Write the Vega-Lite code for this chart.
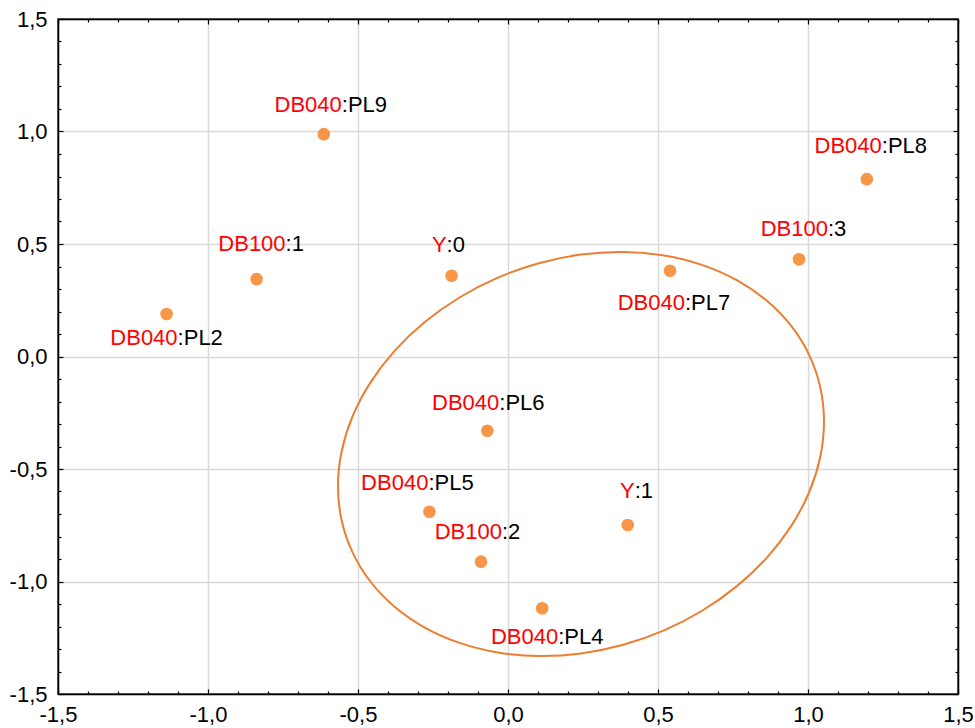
{
  "$schema": "https://vega.github.io/schema/vega-lite/v6.json",
  "width": 900,
  "height": 675,
  "autosize": {"type": "none"},
  "padding": {"left": 58, "top": 19, "right": 17, "bottom": 34},
  "background": "white",
  "config": {
    "view": {"stroke": "black", "strokeWidth": 1.5},
    "font": "Liberation Sans",
    "text": {"font": "Liberation Sans"}
  },
  "datasets": {
    "pts": [
      {"name": "DB040:PL9", "pre": "DB040", "suf": ":PL9", "x": -0.614, "y": 0.988},
      {"name": "DB040:PL8", "pre": "DB040", "suf": ":PL8", "x": 1.196, "y": 0.788},
      {"name": "DB100:1", "pre": "DB100", "suf": ":1", "x": -0.838, "y": 0.344},
      {"name": "DB040:PL2", "pre": "DB040", "suf": ":PL2", "x": -1.138, "y": 0.189},
      {"name": "Y:0", "pre": "Y", "suf": ":0", "x": -0.188, "y": 0.359},
      {"name": "DB100:3", "pre": "DB100", "suf": ":3", "x": 0.97, "y": 0.432},
      {"name": "DB040:PL7", "pre": "DB040", "suf": ":PL7", "x": 0.54, "y": 0.381},
      {"name": "DB040:PL4", "pre": "DB040", "suf": ":PL4", "x": 0.114, "y": -1.119},
      {"name": "DB040:PL6", "pre": "DB040", "suf": ":PL6", "x": -0.069, "y": -0.33},
      {"name": "DB040:PL5", "pre": "DB040", "suf": ":PL5", "x": -0.262, "y": -0.69},
      {"name": "Y:1", "pre": "Y", "suf": ":1", "x": 0.399, "y": -0.749},
      {"name": "DB100:2", "pre": "DB100", "suf": ":2", "x": -0.09, "y": -0.912}
    ],
    "ell": [
      {"o": 0, "x": 1.0533, "y": -0.2893},
      {"o": 1, "x": 1.041, "y": -0.4454},
      {"o": 2, "x": 1.0045, "y": -0.6011},
      {"o": 3, "x": 0.9448, "y": -0.7517},
      {"o": 4, "x": 0.8638, "y": -0.8926},
      {"o": 5, "x": 0.764, "y": -1.0195},
      {"o": 6, "x": 0.6483, "y": -1.1288},
      {"o": 7, "x": 0.5203, "y": -1.2169},
      {"o": 8, "x": 0.3839, "y": -1.281},
      {"o": 9, "x": 0.2433, "y": -1.3195},
      {"o": 10, "x": 0.1027, "y": -1.331},
      {"o": 11, "x": -0.0337, "y": -1.3153},
      {"o": 12, "x": -0.1617, "y": -1.2728},
      {"o": 13, "x": -0.2774, "y": -1.2047},
      {"o": 14, "x": -0.3772, "y": -1.1132},
      {"o": 15, "x": -0.4582, "y": -1.0011},
      {"o": 16, "x": -0.5179, "y": -0.8717},
      {"o": 17, "x": -0.5544, "y": -0.729},
      {"o": 18, "x": -0.5667, "y": -0.5773},
      {"o": 19, "x": -0.5544, "y": -0.4212},
      {"o": 20, "x": -0.5179, "y": -0.2655},
      {"o": 21, "x": -0.4582, "y": -0.1149},
      {"o": 22, "x": -0.3772, "y": 0.026},
      {"o": 23, "x": -0.2774, "y": 0.1529},
      {"o": 24, "x": -0.1617, "y": 0.2622},
      {"o": 25, "x": -0.0337, "y": 0.3503},
      {"o": 26, "x": 0.1027, "y": 0.4144},
      {"o": 27, "x": 0.2433, "y": 0.4529},
      {"o": 28, "x": 0.3839, "y": 0.4644},
      {"o": 29, "x": 0.5203, "y": 0.4487},
      {"o": 30, "x": 0.6483, "y": 0.4062},
      {"o": 31, "x": 0.764, "y": 0.3381},
      {"o": 32, "x": 0.8638, "y": 0.2466},
      {"o": 33, "x": 0.9448, "y": 0.1345},
      {"o": 34, "x": 1.0045, "y": 0.0051},
      {"o": 35, "x": 1.041, "y": -0.1376}
    ]
  },
  "data": {"name": "pts"},
  "encoding": {
    "x": {"field": "x", "type": "quantitative", "scale": {"domain": [-1.5, 1.5], "nice": false, "zero": false}, "axis": null},
    "y": {"field": "y", "type": "quantitative", "scale": {"domain": [-1.5, 1.5], "nice": false, "zero": false}, "axis": null}
  },
  "layer": [
    {
      "data": {"name": "ell"},
      "mark": {"type": "line", "interpolate": "cardinal-closed", "color": "#ed7d31", "strokeWidth": 2},
      "encoding": {
        "x": {"field": "x", "type": "quantitative", "scale": {"domain": [-1.5, 1.5], "nice": false, "zero": false},
          "axis": {
            "orient": "bottom", "title": null, "ticks": false, "domain": false,
            "values": [-1.5, -1.0, -0.5, 0, 0.5, 1.0, 1.5],
            "labelExpr": "(datum.value < -0.001 ? '-' : '') + replace(format(abs(datum.value), '.1f'), '.', ',')",
            "labelFont": "Liberation Sans", "labelFontSize": 22, "labelColor": "black",
            "labelFlush": false, "labelOverlap": false, "labelPadding": 10, "labelBaseline": "top",
            "grid": true, "gridColor": "#d9d9d9", "gridWidth": 1.5
          }},
        "y": {"field": "y", "type": "quantitative", "scale": {"domain": [-1.5, 1.5], "nice": false, "zero": false},
          "axis": {
            "orient": "left", "title": null, "ticks": false, "domain": false,
            "values": [-1.5, -1.0, -0.5, 0, 0.5, 1.0, 1.5],
            "labelExpr": "(datum.value < -0.001 ? '-' : '') + replace(format(abs(datum.value), '.1f'), '.', ',')",
            "labelFont": "Liberation Sans", "labelFontSize": 22, "labelColor": "black",
            "labelFlush": false, "labelOverlap": false, "labelPadding": 11,
            "grid": true, "gridColor": "#d9d9d9", "gridWidth": 1.5
          }},
        "order": {"field": "o", "type": "quantitative"}
      }
    },
    {
      "mark": {"type": "circle", "size": 160, "color": "#f79646", "opacity": 1},
      "encoding": {
        "x": {"field": "x", "type": "quantitative", "scale": {"domain": [-1.5, 1.5], "nice": false, "zero": false},
          "axis": {
            "orient": "top", "title": null, "labels": false, "grid": false,
            "values": [-1.5, -1.4, -1.3, -1.2, -1.1, -1.0, -0.9, -0.8, -0.7, -0.6, -0.5, -0.4, -0.3, -0.2, -0.1, 0, 0.1, 0.2, 0.3, 0.4, 0.5, 0.6, 0.7, 0.8, 0.9, 1.0, 1.1, 1.2, 1.3, 1.4, 1.5],
            "tickColor": "black", "tickWidth": 1.2,
            "tickSize": {"condition": {"test": "abs(datum.value*2 - round(datum.value*2)) < 0.001", "value": -5}, "value": -3},
            "domainColor": "black", "domainWidth": 1.5
          }},
        "y": {"field": "y", "type": "quantitative", "scale": {"domain": [-1.5, 1.5], "nice": false, "zero": false},
          "axis": {
            "orient": "right", "title": null, "labels": false, "grid": false,
            "values": [-1.5, -1.4, -1.3, -1.2, -1.1, -1.0, -0.9, -0.8, -0.7, -0.6, -0.5, -0.4, -0.3, -0.2, -0.1, 0, 0.1, 0.2, 0.3, 0.4, 0.5, 0.6, 0.7, 0.8, 0.9, 1.0, 1.1, 1.2, 1.3, 1.4, 1.5],
            "tickColor": "black", "tickWidth": 1.2,
            "tickSize": {"condition": {"test": "abs(datum.value*2 - round(datum.value*2)) < 0.001", "value": -5}, "value": -3},
            "domainColor": "black", "domainWidth": 1.5
          }}
      }
    },
    {"transform": [{"filter": "datum.name === 'DB040:PL9'"}],
     "encoding": {
        "x": {"field": "x", "type": "quantitative", "scale": {"domain": [-1.5, 1.5], "nice": false, "zero": false},
          "axis": {
            "orient": "bottom", "title": null, "labels": false, "grid": false,
            "values": [-1.5, -1.4, -1.3, -1.2, -1.1, -1.0, -0.9, -0.8, -0.7, -0.6, -0.5, -0.4, -0.3, -0.2, -0.1, 0, 0.1, 0.2, 0.3, 0.4, 0.5, 0.6, 0.7, 0.8, 0.9, 1.0, 1.1, 1.2, 1.3, 1.4, 1.5],
            "tickColor": "black", "tickWidth": 1.2,
            "tickSize": {"condition": {"test": "abs(datum.value*2 - round(datum.value*2)) < 0.001", "value": -5}, "value": -3},
            "domainColor": "black", "domainWidth": 1.5
          }},
        "y": {"field": "y", "type": "quantitative", "scale": {"domain": [-1.5, 1.5], "nice": false, "zero": false},
          "axis": {
            "orient": "left", "title": null, "labels": false, "grid": false,
            "values": [-1.5, -1.4, -1.3, -1.2, -1.1, -1.0, -0.9, -0.8, -0.7, -0.6, -0.5, -0.4, -0.3, -0.2, -0.1, 0, 0.1, 0.2, 0.3, 0.4, 0.5, 0.6, 0.7, 0.8, 0.9, 1.0, 1.1, 1.2, 1.3, 1.4, 1.5],
            "tickColor": "black", "tickWidth": 1.2,
            "tickSize": {"condition": {"test": "abs(datum.value*2 - round(datum.value*2)) < 0.001", "value": -5}, "value": -3},
            "domainColor": "black", "domainWidth": 1.5
          }}
     },
     "layer": [
      {"mark": {"type": "text", "align": "right", "baseline": "alphabetic", "dx": 18, "dy": -22, "fontSize": 22, "color": "#ff0000"}, "encoding": {"text": {"field": "pre"}}},
      {"mark": {"type": "text", "align": "left", "baseline": "alphabetic", "dx": 18, "dy": -22, "fontSize": 22, "color": "#000000"}, "encoding": {"text": {"field": "suf"}}}]},
    {"transform": [{"filter": "datum.name === 'DB040:PL8'"}], "layer": [
      {"mark": {"type": "text", "align": "right", "baseline": "alphabetic", "dx": 15, "dy": -26, "fontSize": 22, "color": "#ff0000"}, "encoding": {"text": {"field": "pre"}}},
      {"mark": {"type": "text", "align": "left", "baseline": "alphabetic", "dx": 15, "dy": -26, "fontSize": 22, "color": "#000000"}, "encoding": {"text": {"field": "suf"}}}]},
    {"transform": [{"filter": "datum.name === 'DB100:1'"}], "layer": [
      {"mark": {"type": "text", "align": "right", "baseline": "alphabetic", "dx": 29, "dy": -28, "fontSize": 22, "color": "#ff0000"}, "encoding": {"text": {"field": "pre"}}},
      {"mark": {"type": "text", "align": "left", "baseline": "alphabetic", "dx": 29, "dy": -28, "fontSize": 22, "color": "#000000"}, "encoding": {"text": {"field": "suf"}}}]},
    {"transform": [{"filter": "datum.name === 'DB040:PL2'"}], "layer": [
      {"mark": {"type": "text", "align": "right", "baseline": "alphabetic", "dx": 11, "dy": 31, "fontSize": 22, "color": "#ff0000"}, "encoding": {"text": {"field": "pre"}}},
      {"mark": {"type": "text", "align": "left", "baseline": "alphabetic", "dx": 11, "dy": 31, "fontSize": 22, "color": "#000000"}, "encoding": {"text": {"field": "suf"}}}]},
    {"transform": [{"filter": "datum.name === 'Y:0'"}], "layer": [
      {"mark": {"type": "text", "align": "right", "baseline": "alphabetic", "dx": -5, "dy": -24, "fontSize": 22, "color": "#ff0000"}, "encoding": {"text": {"field": "pre"}}},
      {"mark": {"type": "text", "align": "left", "baseline": "alphabetic", "dx": -5, "dy": -24, "fontSize": 22, "color": "#000000"}, "encoding": {"text": {"field": "suf"}}}]},
    {"transform": [{"filter": "datum.name === 'DB100:3'"}], "layer": [
      {"mark": {"type": "text", "align": "right", "baseline": "alphabetic", "dx": 29, "dy": -23, "fontSize": 22, "color": "#ff0000"}, "encoding": {"text": {"field": "pre"}}},
      {"mark": {"type": "text", "align": "left", "baseline": "alphabetic", "dx": 29, "dy": -23, "fontSize": 22, "color": "#000000"}, "encoding": {"text": {"field": "suf"}}}]},
    {"transform": [{"filter": "datum.name === 'DB040:PL7'"}], "layer": [
      {"mark": {"type": "text", "align": "right", "baseline": "alphabetic", "dx": 15, "dy": 39, "fontSize": 22, "color": "#ff0000"}, "encoding": {"text": {"field": "pre"}}},
      {"mark": {"type": "text", "align": "left", "baseline": "alphabetic", "dx": 15, "dy": 39, "fontSize": 22, "color": "#000000"}, "encoding": {"text": {"field": "suf"}}}]},
    {"transform": [{"filter": "datum.name === 'DB040:PL4'"}], "layer": [
      {"mark": {"type": "text", "align": "right", "baseline": "alphabetic", "dx": 16, "dy": 36, "fontSize": 22, "color": "#ff0000"}, "encoding": {"text": {"field": "pre"}}},
      {"mark": {"type": "text", "align": "left", "baseline": "alphabetic", "dx": 16, "dy": 36, "fontSize": 22, "color": "#000000"}, "encoding": {"text": {"field": "suf"}}}]},
    {"transform": [{"filter": "datum.name === 'DB040:PL6'"}], "layer": [
      {"mark": {"type": "text", "align": "right", "baseline": "alphabetic", "dx": 12, "dy": -21, "fontSize": 22, "color": "#ff0000"}, "encoding": {"text": {"field": "pre"}}},
      {"mark": {"type": "text", "align": "left", "baseline": "alphabetic", "dx": 12, "dy": -21, "fontSize": 22, "color": "#000000"}, "encoding": {"text": {"field": "suf"}}}]},
    {"transform": [{"filter": "datum.name === 'DB040:PL5'"}], "layer": [
      {"mark": {"type": "text", "align": "right", "baseline": "alphabetic", "dx": -1, "dy": -22, "fontSize": 22, "color": "#ff0000"}, "encoding": {"text": {"field": "pre"}}},
      {"mark": {"type": "text", "align": "left", "baseline": "alphabetic", "dx": -1, "dy": -22, "fontSize": 22, "color": "#000000"}, "encoding": {"text": {"field": "suf"}}}]},
    {"transform": [{"filter": "datum.name === 'Y:1'"}], "layer": [
      {"mark": {"type": "text", "align": "right", "baseline": "alphabetic", "dx": 7, "dy": -27, "fontSize": 22, "color": "#ff0000"}, "encoding": {"text": {"field": "pre"}}},
      {"mark": {"type": "text", "align": "left", "baseline": "alphabetic", "dx": 7, "dy": -27, "fontSize": 22, "color": "#000000"}, "encoding": {"text": {"field": "suf"}}}]},
    {"transform": [{"filter": "datum.name === 'DB100:2'"}], "layer": [
      {"mark": {"type": "text", "align": "right", "baseline": "alphabetic", "dx": 21, "dy": -23, "fontSize": 22, "color": "#ff0000"}, "encoding": {"text": {"field": "pre"}}},
      {"mark": {"type": "text", "align": "left", "baseline": "alphabetic", "dx": 21, "dy": -23, "fontSize": 22, "color": "#000000"}, "encoding": {"text": {"field": "suf"}}}]}
  ],
  "resolve": {"axis": {"x": "independent", "y": "independent"}}
}
